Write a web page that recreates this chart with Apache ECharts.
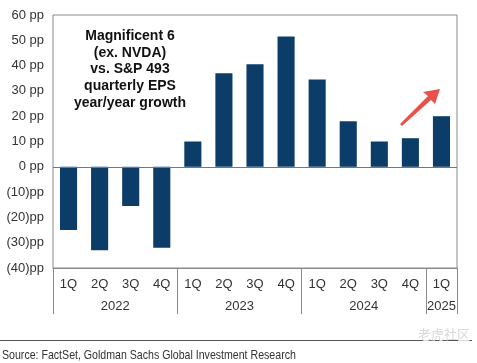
<!DOCTYPE html>
<html><head><meta charset="utf-8">
<script src="https://cdn.jsdelivr.net/npm/echarts@6/dist/echarts.min.js"></script>
<style>html,body{margin:0;padding:0;background:#fff}#c{width:477px;height:363px}</style>
</head><body><div id="c"></div>
<script>
var quarters = ['1Q','2Q','3Q','4Q','1Q','2Q','3Q','4Q','1Q','2Q','3Q','4Q','1Q'];
var years = [['2022',0,3],['2023',4,7],['2024',8,11],['2025',12,12]];
var values = [-25, -33, -15.5, -32, 10, 37, 40.5, 51.5, 34.5, 18, 10, 11.3, 20];
var yTicks = {min:-40, max:60, interval:10};
var titleLines = ['Magnificent 6','(ex. NVDA)','vs. S&P 493','quarterly EPS','year/year growth'];
var source = 'Source: FactSet, Goldman Sachs Global Investment Research';

var chart = echarts.init(document.getElementById('c'));
var fam = 'Liberation Sans, Arial, sans-serif';
var option = {
  animation:false,
  grid:{left:53, top:15, width:404, height:253, show:true, borderColor:'#8a8a8a', borderWidth:1, containLabel:false},
  xAxis:{type:'category', data:quarters,
    axisLine:{show:true, onZero:false, lineStyle:{color:'#8a8a8a'}},
    axisTick:{show:true, length:46, lineStyle:{color:'#8a8a8a'},
      interval:function(i){return i===0||i===4||i===8||i===12||i===13;}},
    axisLabel:{color:'#333', fontSize:13, fontFamily:fam, margin:10, interval:0}},
  yAxis:{type:'value', min:yTicks.min, max:yTicks.max, interval:yTicks.interval,
    splitLine:{show:false}, axisLine:{show:false}, axisTick:{show:false},
    axisLabel:{color:'#333', fontSize:13, fontFamily:fam, margin:9,
      formatter:function(v){return v>=0? v+' pp' : '('+(-v)+')pp';}}},
  series:[{type:'bar', data:values, barWidth:'55%', itemStyle:{color:'#0c3c68'},
    markLine:{silent:true, symbol:'none', label:{show:false},
      lineStyle:{color:'#777', type:'solid', width:1}, data:[{yAxis:0}]}}]
};
chart.setOption(option);

var g = [];
years.forEach(function(y){
  var x0 = chart.convertToPixel({xAxisIndex:0}, y[1]);
  var x1 = chart.convertToPixel({xAxisIndex:0}, y[2]);
  g.push({type:'text', x:(x0+x1)/2, y:306, style:{text:y[0], fill:'#333', font:'13px '+fam, textAlign:'center', textVerticalAlign:'middle'}});
});
g.push({type:'text', x:130, y:28, style:{text:titleLines.join('\n'), fill:'#111', font:'bold 14px '+fam, textAlign:'center', lineHeight:16.6}});
g.push({type:'line', shape:{x1:0,y1:340.5,x2:472,y2:340.5}, style:{stroke:'#555', lineWidth:1}});
g.push({type:'text', x:2, y:355, scaleX:0.815, style:{text:source, fill:'#333', font:'13px '+fam, textVerticalAlign:'middle'}});
// red arrow annotation
g.push({type:'polygon', shape:{points:[[400,124],[428,96],[423,92],[440,89],[435,104],[431,100],[402,126]]}, style:{fill:'#e9514b'}});
g.push({type:'text', x:470, y:334, style:{text:'老虎社区', fill:'#d8d8d8', font:'13px "Noto Sans CJK SC"', textAlign:'right', textVerticalAlign:'middle'}});
chart.setOption({graphic:g});
</script></body></html>
